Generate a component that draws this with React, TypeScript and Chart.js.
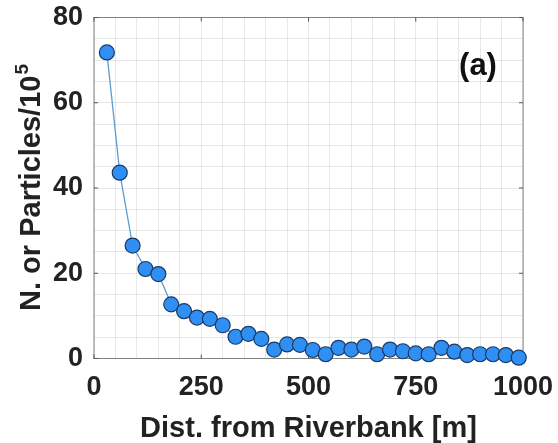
import React, { useEffect, useRef } from "react";
import { Chart, registerables } from "chart.js";

Chart.register(...registerables);

const distances = [30, 60, 90, 120, 150, 180, 210, 240, 270, 300, 330, 360, 390, 420, 450, 480, 510, 540, 570, 600, 630, 660, 690, 720, 750, 780, 810, 840, 870, 900, 930, 960, 990];
const particles = [71.8, 43.6, 26.5, 21.0, 19.8, 12.7, 11.1, 9.6, 9.3, 7.8, 5.1, 5.8, 4.6, 2.1, 3.3, 3.2, 2.0, 1.0, 2.5, 2.1, 2.8, 1.0, 2.1, 1.7, 1.2, 1.0, 2.5, 1.6, 0.8, 1.0, 1.0, 0.8, 0.2];
const xMajorTicks = [0, 250, 500, 750, 1000];
const yMajorTicks = [0, 20, 40, 60, 80];
const xTitle = "Dist. from Riverbank [m]";
const yTitleMain = "N. or Particles/10";
const yTitleSup = "5";
const panelLabel = "(a)";

const FONT = "'Liberation Sans', Arial, Helvetica, sans-serif";

const framePlugin = {
  id: "frame",
  beforeDatasetsDraw(chart: any) {
    const { ctx, chartArea } = chart;
    const xs = chart.scales.x;
    const ys = chart.scales.y;
    ctx.save();
    ctx.strokeStyle = "#808080";
    ctx.lineWidth = 1;
    ctx.strokeRect(chartArea.left, chartArea.top, chartArea.right - chartArea.left, chartArea.bottom - chartArea.top);
    const tl = 4;
    ctx.strokeStyle = "#555555";
    ctx.beginPath();
    xMajorTicks.forEach((v) => {
      const px = xs.getPixelForValue(v);
      ctx.moveTo(px, chartArea.bottom);
      ctx.lineTo(px, chartArea.bottom - tl);
      ctx.moveTo(px, chartArea.top);
      ctx.lineTo(px, chartArea.top + tl);
    });
    yMajorTicks.forEach((v) => {
      const py = ys.getPixelForValue(v);
      ctx.moveTo(chartArea.left, py);
      ctx.lineTo(chartArea.left + tl, py);
      ctx.moveTo(chartArea.right, py);
      ctx.lineTo(chartArea.right - tl, py);
    });
    ctx.stroke();
    ctx.restore();
  },
  afterDraw(chart: any) {
    const { ctx, chartArea } = chart;
    ctx.save();
    ctx.fillStyle = "#222222";
    ctx.font = `bold 29px ${FONT}`;
    ctx.textAlign = "center";
    ctx.textBaseline = "alphabetic";
    ctx.fillText(xTitle, (chartArea.left + chartArea.right) / 2, 437);
    const cy = (chartArea.top + chartArea.bottom) / 2;
    ctx.translate(40, cy);
    ctx.rotate(-Math.PI / 2);
    ctx.textAlign = "left";
    ctx.font = `bold 29px ${FONT}`;
    const w1 = ctx.measureText(yTitleMain).width;
    ctx.font = `bold 19px ${FONT}`;
    const w2 = ctx.measureText(yTitleSup).width;
    const start = -(w1 + w2) / 2;
    ctx.font = `bold 29px ${FONT}`;
    ctx.fillText(yTitleMain, start, 0);
    ctx.font = `bold 19px ${FONT}`;
    ctx.fillText(yTitleSup, start + w1 + 1, -12);
    ctx.restore();
    ctx.save();
    ctx.fillStyle = "#111111";
    ctx.font = `bold 31px ${FONT}`;
    ctx.textAlign = "center";
    ctx.textBaseline = "alphabetic";
    ctx.fillText(panelLabel, chartArea.right - 45, chartArea.top + 57);
    ctx.restore();
  },
};

const zeroPad = (s: any) => {
  s.paddingTop = 0;
  s.paddingBottom = 0;
  s.paddingLeft = 0;
  s.paddingRight = 0;
};

export default function App() {
  const ref = useRef<HTMLCanvasElement>(null);
  useEffect(() => {
    document.body.style.margin = "0";
    const canvas = ref.current!;
    const chart = new Chart(canvas, {
      type: "line",
      data: {
        datasets: [
          {
            data: distances.map((d, i) => ({ x: d, y: particles[i] })),
            borderColor: "#5b9bd5",
            borderWidth: 1.3,
            pointBackgroundColor: "#2f8ff2",
            pointBorderColor: "#1b3a66",
            pointBorderWidth: 1.2,
            pointRadius: 7.5,
            tension: 0,
            clip: false as any,
          },
        ],
      },
      options: {
        animation: false,
        responsive: false,
        maintainAspectRatio: false,
        layout: { padding: { top: 17.5, right: 35, left: 0, bottom: 0 } },
        plugins: { legend: { display: false }, tooltip: { enabled: false } },
        scales: {
          x: {
            type: "linear",
            min: 0,
            max: 1000,
            afterFit: (s: any) => {
              s.height = 84.5;
              zeroPad(s);
            },
            grid: { color: "rgba(0,0,0,0.09)", drawTicks: false, lineWidth: 1 },
            border: { display: false },
            ticks: {
              stepSize: 50,
              autoSkip: false,
              maxTicksLimit: 100,
              maxRotation: 0,
              padding: 13,
              color: "#222222",
              font: { family: FONT, size: 27, weight: "bold" },
              callback: (v: any) => (xMajorTicks.includes(Number(v)) ? String(v) : ""),
            },
          },
          y: {
            type: "linear",
            min: 0,
            max: 80,
            afterFit: (s: any) => {
              s.width = 94;
              zeroPad(s);
            },
            grid: { color: "rgba(0,0,0,0.09)", drawTicks: false, lineWidth: 1 },
            border: { display: false },
            ticks: {
              stepSize: 5,
              autoSkip: false,
              maxTicksLimit: 100,
              padding: 11,
              color: "#222222",
              font: { family: FONT, size: 27, weight: "bold" },
              callback: (v: any) => (yMajorTicks.includes(Number(v)) ? String(v) : ""),
            },
          },
        },
      },
      plugins: [framePlugin],
    });
    return () => chart.destroy();
  }, []);
  return <canvas ref={ref} width={558} height={443} style={{ display: "block" }} />;
}
